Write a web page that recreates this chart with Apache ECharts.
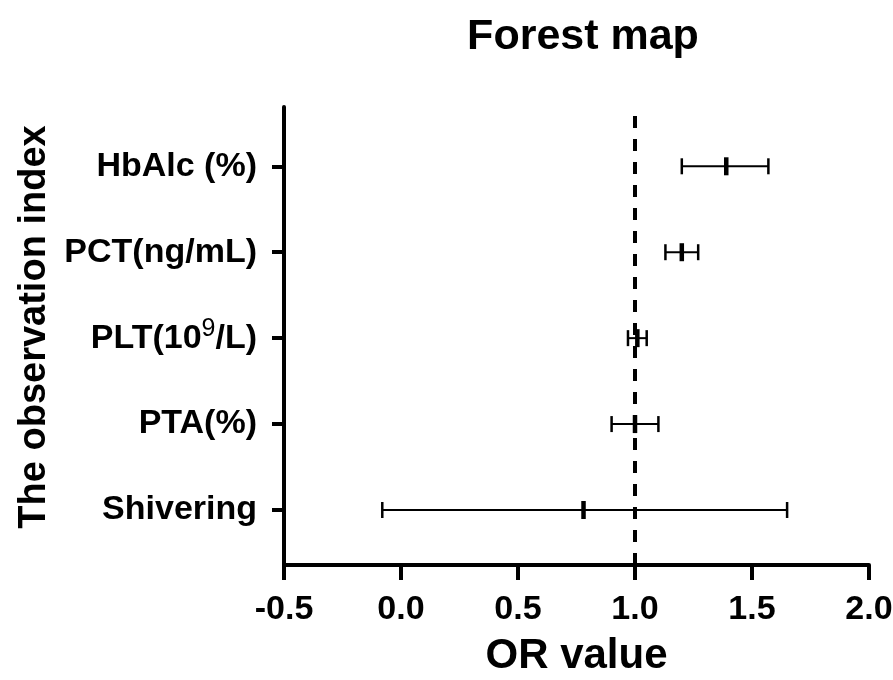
<!DOCTYPE html>
<html>
<head>
<meta charset="utf-8">
<title>Forest map</title>
<script src="https://cdn.jsdelivr.net/npm/echarts@6/dist/echarts.min.js"></script>
<style>
  html, body { margin: 0; padding: 0; background: #fff; }
  #main { width: 893px; height: 680px; }
</style>
</head>
<body>
<div id="main"></div>
<script>
// forest plot data
var categories = ['HbAlc (%)', 'PCT(ng/mL)', 'PLT(10{sup|9}/L)', 'PTA(%)', 'Shivering'];
var rowPos = [5, 4, 3, 2, 1];
var orValues = [1.39, 1.20, 1.01, 1.00, 0.78];
var lowerCI = [1.20, 1.13, 0.97, 0.90, -0.08];
var upperCI = [1.57, 1.27, 1.05, 1.10, 1.65];
var xTicks = [-0.5, 0.0, 0.5, 1.0, 1.5, 2.0];

var FONT = '"Liberation Sans", Arial, sans-serif';

var chart = echarts.init(document.getElementById('main'));

var seriesData = [];
for (var i = 0; i < categories.length; i++) {
    seriesData.push([rowPos[i], orValues[i], lowerCI[i], upperCI[i]]);
}

//误差线
var renderBar = function (params, api) {
    var y = api.value(0);
    var mid = api.coord([api.value(1), y]);
    var lo = api.coord([api.value(2), y]);
    var hi = api.coord([api.value(3), y]);
    var capH = 8, markH = 9;
    return {
        type: 'group',
        children: [
            {type: 'line', shape: {x1: lo[0], y1: lo[1], x2: hi[0], y2: hi[1]}, style: {stroke: '#000', lineWidth: 2}},
            {type: 'line', shape: {x1: lo[0], y1: lo[1] - capH, x2: lo[0], y2: lo[1] + capH}, style: {stroke: '#000', lineWidth: 2.5}},
            {type: 'line', shape: {x1: hi[0], y1: hi[1] - capH, x2: hi[0], y2: hi[1] + capH}, style: {stroke: '#000', lineWidth: 2.5}},
            {type: 'line', shape: {x1: mid[0], y1: mid[1] - markH, x2: mid[0], y2: mid[1] + markH}, style: {stroke: '#000', lineWidth: 4.5}}
        ]
    };
};

var option = {
    backgroundColor: '#fff',
    animation: false,
    title: {
        text: 'Forest map',
        left: 578,
        textAlign: 'center',
        top: 11,
        textStyle: {fontFamily: FONT, fontSize: 43, fontWeight: 'bold', color: '#000'}
    },
    grid: {left: 284, right: 24, top: 107, bottom: 115, containLabel: false, outerBoundsMode: 'none'},
    xAxis: {
        type: 'value',
        min: -0.5,
        max: 2.0,
        interval: 0.5,
        name: 'OR value',
        nameLocation: 'middle',
        nameGap: 70,
        nameTextStyle: {fontFamily: FONT, fontSize: 42, fontWeight: 'bold', color: '#000'},
        axisLine: {show: true, onZero: false, lineStyle: {color: '#000', width: 4}},
        axisTick: {show: true, length: 15, lineStyle: {color: '#000', width: 4}},
        axisLabel: {
            customValues: xTicks,
            margin: 28,
            fontFamily: FONT, fontSize: 34, fontWeight: 'bold', color: '#000',
            formatter: function (v) { return v.toFixed(1); }
        },
        splitLine: {show: false}
    },
    yAxis: {
        type: 'value',
        min: 0.36,
        max: 5.69,
        name: 'The observation index',
        nameLocation: 'middle',
        nameGap: 226,
        nameTextStyle: {fontFamily: FONT, fontSize: 38, fontWeight: 'bold', color: '#000', padding: [0, 0, 0, 18]},
        axisLine: {show: true, onZero: false, lineStyle: {color: '#000', width: 4}},
        axisTick: {show: true, customValues: rowPos, length: 12, lineStyle: {color: '#000', width: 4}},
        axisLabel: {
            customValues: rowPos,
            margin: 27,
            fontFamily: FONT, fontSize: 34, fontWeight: 'bold', color: '#000', lineHeight: 44,
            formatter: function (v) {
                var k = rowPos.indexOf(Math.round(v));
                return k < 0 ? '' : categories[k];
            },
            rich: {
                sup: {fontFamily: FONT, fontSize: 25, fontWeight: 'normal', color: '#000', lineHeight: 25, verticalAlign: 'top'}
            }
        },
        splitLine: {show: false}
    },
    series: [{
        type: 'custom',
        renderItem: renderBar,
        data: seriesData,
        encode: {x: [1, 2, 3], y: 0},
        markLine: {
            silent: true,
            symbol: 'none',
            label: {show: false},
            lineStyle: {color: '#000', width: 4, type: [12, 11]},
            data: [{xAxis: 1}]
        }
    }]
};

chart.setOption(option);
window.onresize = chart.resize;
</script>
</body>
</html>
